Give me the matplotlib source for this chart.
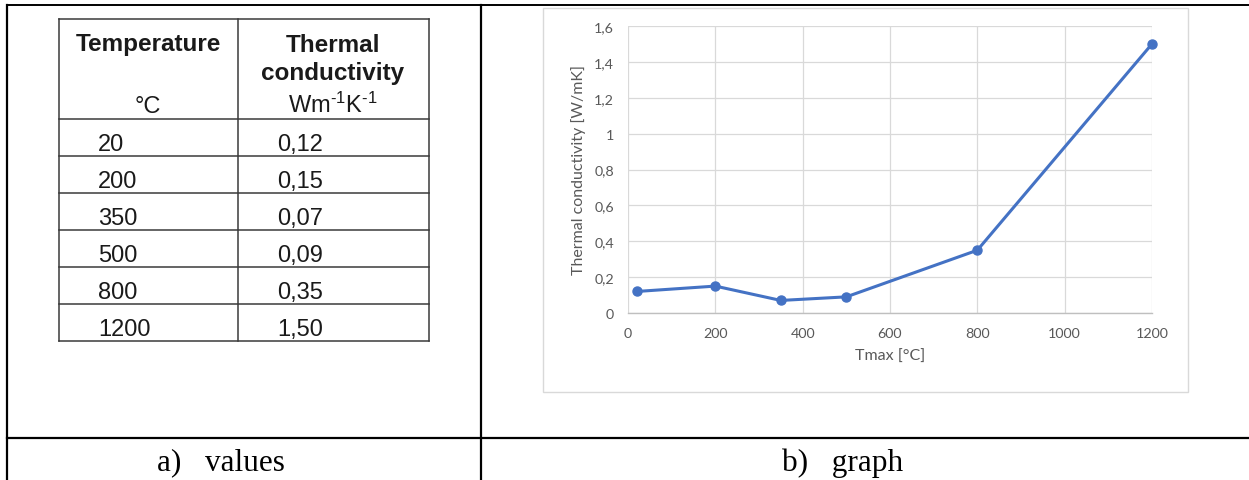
import matplotlib
matplotlib.use("Agg")
import matplotlib.pyplot as plt
from matplotlib.patches import Rectangle

# data
temperatures = [20, 200, 350, 500, 800, 1200]
conductivity = [0.12, 0.15, 0.07, 0.09, 0.35, 1.50]
x_ticks = [0, 200, 400, 600, 800, 1000, 1200]
y_ticks = [0, 0.2, 0.4, 0.6, 0.8, 1.0, 1.2, 1.4, 1.6]
captions = ["a)   values", "b)   graph"]

plt.rcParams['mathtext.fontset'] = 'custom'
plt.rcParams['mathtext.rm'] = 'Liberation Sans'
plt.rcParams['mathtext.it'] = 'Liberation Sans:italic'

W, H = 1249, 481
fig = plt.figure(figsize=(W / 100, H / 100), dpi=100)

# page layer in pixel coordinates (y down)
page = fig.add_axes([0, 0, 1, 1])
page.set_xlim(0, W)
page.set_ylim(H, 0)
page.axis('off')

# outer frame of the word table
blk = dict(color='black', lw=1.6, solid_capstyle='projecting')
page.plot([7.5, W], [5.5, 5.5], color='black', lw=1.4, solid_capstyle='projecting')
page.plot([7.5, 7.5], [5.5, H], **blk)
page.plot([481, 481], [5.5, H], **blk)
page.plot([7.5, W], [439, 439], **blk)

# ---- left: values table ----
col_x = [59, 238, 429]
row_y = [20, 120, 157, 194, 231, 268, 305, 342]
tc = '#3a3a3a'
for y in row_y:
    page.plot([col_x[0], col_x[-1]], [y, y], color=tc, lw=1.1)
for x in col_x:
    page.plot([x, x], [row_y[0], row_y[-1]], color=tc, lw=1.1)

hfont = dict(family='Liberation Sans', fontsize=17.5, color='#1a1a1a')
vfont = dict(family='Liberation Sans', fontsize=17, color='#1a1a1a')
page.text(148, 51.5, 'Temperature', ha='center', va='baseline', weight='bold', **hfont)
page.text(333, 51.5, 'Thermal', ha='center', va='baseline', weight='bold', **hfont)
page.text(333, 80, 'conductivity', ha='center', va='baseline', weight='bold', **hfont)
page.text(148, 113, '°C', ha='center', va='baseline', **vfont)
page.text(333, 113, r'Wm$\mathregular{^{\text{-}1}}$K$\mathregular{^{\text{-}1}}$',
          ha='center', va='baseline', **vfont)

for i, (t, k) in enumerate(zip(temperatures, conductivity)):
    yb = row_y[i + 1] + 31.5
    page.text(98, yb, str(t), ha='left', va='baseline', **vfont)
    page.text(277, yb, f'{k:.2f}'.replace('.', ','), ha='left', va='baseline', **vfont)

# captions
cfont = dict(family='Liberation Serif', fontsize=22.5, color='black')
page.text(221, 470, captions[0], ha='center', va='baseline', **cfont)
page.text(843, 471, captions[1], ha='center', va='baseline', **cfont)

# chart frame (excel chart area)
page.add_patch(Rectangle((543, 9), 1188 - 543, 393 - 9, fill=False, ec='#D9D9D9', lw=1))

# ---- right: graph ----
left, right, top, bottom = 628, 1152, 27, 314
ax = fig.add_axes([left / W, 1 - bottom / H, (right - left) / W, (bottom - top) / H])
ax.plot(temperatures, conductivity, color='#4472C4', lw=2.2, marker='o', ms=6.5,
        zorder=3, clip_on=False)
ax.set_xlim(0, 1200)
ax.set_ylim(0, 1.6)
ax.set_xticks(x_ticks)
ax.set_yticks(y_ticks)
ax.set_yticklabels([f'{v:g}'.replace('.', ',') for v in y_ticks])
ax.grid(True, color='#D9D9D9', lw=0.9)
ax.set_axisbelow(True)
for s in ['top', 'right', 'left']:
    ax.spines[s].set_visible(False)
ax.spines['bottom'].set_color('#BFBFBF')
ax.spines['bottom'].set_linewidth(1)
ax.tick_params(length=0, labelsize=10.3, labelcolor='#595959', pad=10)
for lab in ax.get_xticklabels() + ax.get_yticklabels():
    lab.set_family('Lato')
ax.set_xlabel('Tmax [°C]', family='Lato', fontsize=11.5, color='#595959', labelpad=7)
ax.set_ylabel('Thermal conductivity [W/mK]', family='Lato', fontsize=11.5, color='#595959', labelpad=6)

fig.savefig('out.png', dpi=100)
